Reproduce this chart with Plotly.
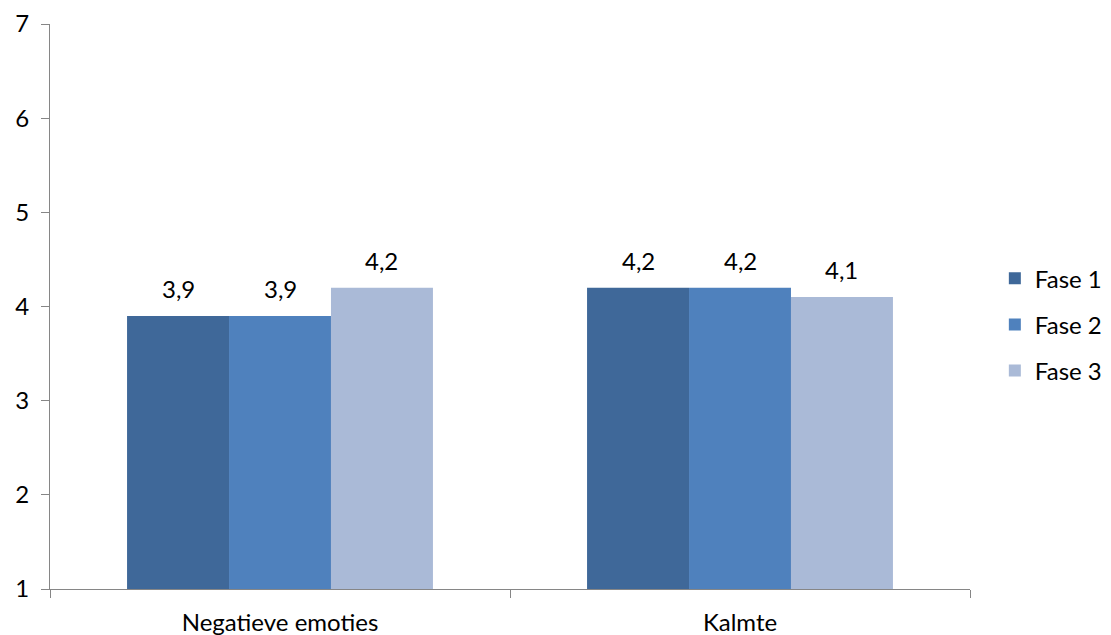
import plotly.graph_objects as go

categories = ["Negatieve emoties", "Kalmte"]
series_names = ["Fase 1", "Fase 2", "Fase 3"]
fase1 = [3.9, 4.2]
fase2 = [3.9, 4.2]
fase3 = [4.2, 4.1]
series_values = [fase1, fase2, fase3]
colors = ["#3F6899", "#4F81BD", "#AABAD7"]
y_ticks = [1, 2, 3, 4, 5, 6, 7]

FONT = "Lato, Open Sans, sans-serif"
FS = 24
BARGAP = 0.335

fig = go.Figure()
n = len(series_names)
bar_w = (1 - BARGAP) / n
for i, (name, vals, col) in enumerate(zip(series_names, series_values, colors)):
    fig.add_trace(go.Bar(
        x=categories, y=vals, name=name,
        marker=dict(color=col, line=dict(width=0)),
        legendgroup=name,
    ))
    for ci, v in enumerate(vals):
        fig.add_annotation(
            x=ci + (i - (n - 1) / 2) * bar_w, y=v, xref="x", yref="y",
            text=f"{v:.1f}".replace(".", ","), showarrow=False,
            yanchor="bottom", yshift=11,
            font=dict(size=FS, color="#000000", family=FONT),
        )

# page body has an 8px margin, so the figure is sized/positioned to compensate
fig.update_layout(
    width=1111, height=627,
    margin=dict(l=42, r=136, t=16, b=46),
    paper_bgcolor="white", plot_bgcolor="white",
    barmode="group", bargap=BARGAP, bargroupgap=0,
    separators=", ",
    font=dict(family=FONT, size=FS, color="#000000"),
    showlegend=True,
    legend=dict(x=1.027, y=0.468, xanchor="left", yanchor="middle",
                font=dict(size=FS), traceorder="grouped", tracegroupgap=12,
                itemwidth=30),
    xaxis=dict(showline=True, linecolor="#868686", linewidth=1,
               ticks="outside", tickson="boundaries", ticklen=8, tickcolor="#868686",
               showgrid=False, tickfont=dict(size=FS), automargin=False,
               ticklabelstandoff=12),
    yaxis=dict(range=[1, 7], tickvals=y_ticks, showline=True, linecolor="#868686",
               linewidth=1, ticks="outside", ticklen=8, tickcolor="#868686",
               showgrid=False, zeroline=False, tickfont=dict(size=FS),
               automargin=False, ticklabelstandoff=7),
)

fig.write_html("out.html")
